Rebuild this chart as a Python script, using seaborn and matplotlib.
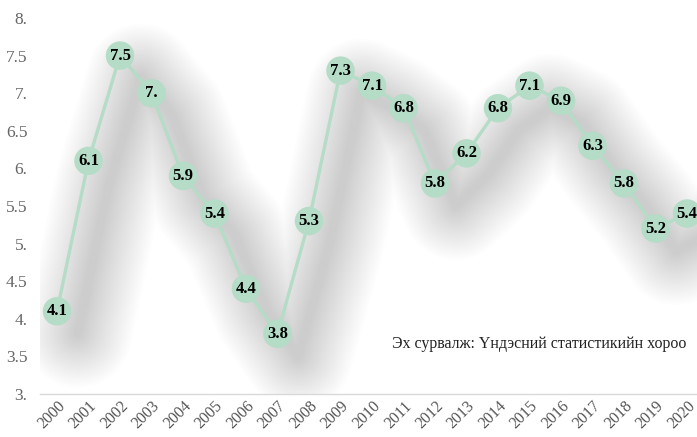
import matplotlib
matplotlib.use("Agg")
import matplotlib.pyplot as plt
import matplotlib.transforms as mtransforms
from matplotlib.ticker import FuncFormatter
import pandas as pd
import seaborn as sns

years = list(range(2000, 2021))
values = [4.1, 6.1, 7.5, 7.0, 5.9, 5.4, 4.4, 3.8, 5.3, 7.3, 7.1,
          6.8, 5.8, 6.2, 6.8, 7.1, 6.9, 6.3, 5.8, 5.2, 5.4]
y_ticks = [3, 3.5, 4, 4.5, 5, 5.5, 6, 6.5, 7, 7.5, 8]
source_text = "Эх сурвалж: Үндэсний статистикийн хороо"

GREEN = "#b4dcc6"


def fmt(v):
    # "7." style for whole numbers, as in the original
    s = f"{v:g}"
    return s + "." if "." not in s else s


df = pd.DataFrame({"pos": range(len(years)), "year": years, "value": values})

sns.set_style("white")
plt.rcParams["font.family"] = ["Liberation Serif", "DejaVu Serif"]

fig = plt.figure(figsize=(6.97, 4.37), dpi=100)
ax = fig.add_axes([40 / 697, 1 - 394 / 437, 657 / 697, (394 - 18) / 437])

# soft, blurred drop shadow under the line
shadow = mtransforms.offset_copy(ax.transData, fig=fig, x=15, y=-16, units="points")
for lw in range(78, 4, -3):
    ax.plot(df["pos"], df["value"], color="black", alpha=0.0068, lw=lw,
            solid_capstyle="round", solid_joinstyle="round", transform=shadow)

sns.lineplot(data=df, x="pos", y="value", color=GREEN, lw=2.4, ax=ax, zorder=3)
sns.scatterplot(data=df, x="pos", y="value", color=GREEN, s=420, edgecolor="none",
                ax=ax, zorder=4, clip_on=False)

for _, r in df.iterrows():
    ax.text(r["pos"], r["value"], fmt(r["value"]), ha="center", va="center",
            fontsize=12, fontweight="bold", color="black", zorder=5)

ax.text(10.63, 3.66, source_text, ha="left", va="center", fontsize=11.5, color="#222222")

ax.set_xlim(-0.54, 20.317)
ax.set_ylim(3, 8)
ax.set_yticks(y_ticks)
ax.yaxis.set_major_formatter(FuncFormatter(lambda v, p: fmt(v)))
ax.set_xticks(df["pos"])
ax.set_xticklabels([str(y) for y in years], rotation=45, ha="right", rotation_mode="anchor")
ax.tick_params(axis="x", length=0, pad=3, labelsize=11.5, labelcolor="#555555")
ax.tick_params(axis="y", length=0, pad=9, labelsize=12.5, labelcolor="#666666")
ax.set_xlabel("")
ax.set_ylabel("")

for s in ["top", "right", "left"]:
    ax.spines[s].set_visible(False)
ax.spines["bottom"].set_color("#d9d9d9")
ax.spines["bottom"].set_linewidth(1)

fig.savefig("out.png", dpi=100)
